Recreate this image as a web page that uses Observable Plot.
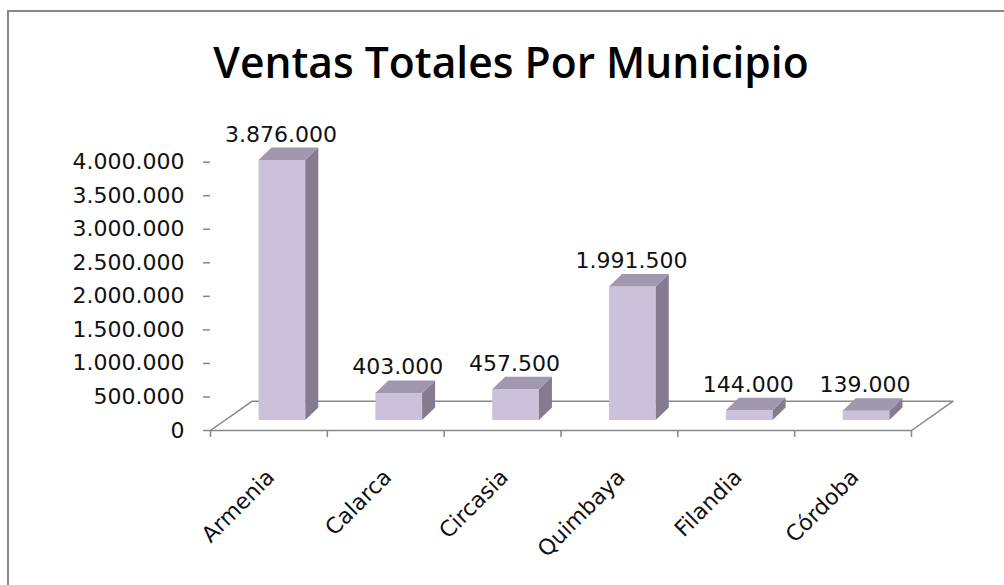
<!DOCTYPE html>
<html>
<head>
<meta charset="utf-8">
<script src="https://cdn.jsdelivr.net/npm/d3@7"></script>
<script src="https://cdn.jsdelivr.net/npm/@observablehq/plot@0.6"></script>
<style>
  html, body { margin: 0; padding: 0; background: #fff; }
  #wrap { position: relative; width: 1004px; height: 585px; overflow: hidden; background: #fff; }
  #frame { position: absolute; left: 7px; top: 10px; width: 1020px; height: 620px; border: 2px solid #878787; box-sizing: border-box; z-index: 5; pointer-events: none; }
  #title { position: relative; height: 110px; }
  #title span { position: absolute; left: 510.5px; top: 40px; font-family: "Open Sans", Lato, sans-serif; font-weight: 600; font-size: 43.5px; line-height: 1; white-space: nowrap; color: #000; transform-origin: center; }
  #chart svg { display: block; }
</style>
</head>
<body>
<div id="wrap">
  <div id="title"><span id="titleText">Ventas Totales Por Municipio</span></div>
  <div id="chart"></div>
  <div id="frame"></div>
</div>
<script>
// ---- data ----
const categories = ["Armenia", "Calarca", "Circasia", "Quimbaya", "Filandia", "Córdoba"];
const ventas = [3876000, 403000, 457500, 1991500, 144000, 139000];
const yTicks = [0, 500000, 1000000, 1500000, 2000000, 2500000, 3000000, 3500000, 4000000];
const yMax = 4000000;

// ---- layout ----
const W = 1004, H = 475;
const mL = 210, mR = 93, mT = 51.7, mB = 155;
const nCat = categories.length;
const pxPerBand = (W - mL - mR) / nCat;
const pxPerUnit = (H - mT - mB) / yMax;
const barDX = 13.5, barDY = -10;          // front face offset into the depth
const depthX = 13 / pxPerBand, depthY = 12.5 / pxPerUnit;    // bar depth
const floorX = 41.7 / pxPerBand, floorY = 29.3 / pxPerUnit;  // floor depth

const fmt = d3.formatLocale({decimal: ",", thousands: ".", grouping: [3], currency: ["$", ""]}).format(",");

const bars = categories.map((name, i) => ({name, i, v: ventas[i]}));
const sidePts = bars.flatMap(b => [
  {name: b.name, x: b.i + 0.7, y1: 0, y2: b.v},
  {name: b.name, x: b.i + 0.7 + depthX, y1: depthY, y2: b.v + depthY}
]);
const topPts = bars.flatMap(b => [
  {name: b.name, y: b.v, x1: b.i + 0.3, x2: b.i + 0.7},
  {name: b.name, y: b.v + depthY, x1: b.i + 0.3 + depthX, x2: b.i + 0.7 + depthX}
]);
const floorPts = [
  {x: 0, y: 0}, {x: floorX, y: floorY}, {x: nCat + floorX, y: floorY}, {x: nCat, y: 0}
];

const axisGray = "#878787";
const frontFill = "#CBC1DB", sideFill = "#847B91", topFill = "#A197AF";

const plot = Plot.plot({
  width: W, height: H,
  marginLeft: mL, marginRight: mR, marginTop: mT, marginBottom: mB,
  style: {fontFamily: "'DejaVu Sans', Verdana, sans-serif", fontSize: "22px", background: "transparent", color: "#000", overflow: "visible"},
  x: {domain: [0, nCat], axis: null},
  y: {domain: [0, yMax], axis: null},
  marks: [
    Plot.line(floorPts, {x: "x", y: "y", stroke: axisGray, strokeWidth: 1.5}),
    Plot.ruleY([0], {stroke: axisGray, strokeWidth: 1.5}),
    Plot.axisX({ticks: d3.range(nCat + 1), tickSize: 7, tickFormat: () => "", stroke: axisGray, strokeWidth: 1.5, label: null}),
    Plot.axisY({ticks: yTicks, tickSize: 7, tickPadding: 19, tickFormat: fmt, stroke: axisGray, strokeWidth: 1.5, fill: "#111", line: true, label: null, fontSize: 22}),
    Plot.rect(bars, {x1: d => d.i + 0.3, x2: d => d.i + 0.7, y1: 0, y2: "v", fill: frontFill, dx: barDX, dy: barDY}),
    Plot.areaY(sidePts, {x: "x", y1: "y1", y2: "y2", z: "name", fill: sideFill, dx: barDX, dy: barDY}),
    Plot.areaX(topPts, {y: "y", x1: "x1", x2: "x2", z: "name", fill: topFill, dx: barDX, dy: barDY}),
    Plot.text(bars, {x: d => d.i + 0.5, y: "v", text: d => fmt(d.v), dx: 12, dy: -29, lineAnchor: "bottom", fill: "#111", fontSize: 22}),
    Plot.text(categories, {x: (d, i) => i + 0.5, y: () => 0, text: d => d, rotate: -45, textAnchor: "end", dx: 2, dy: 43, fill: "#111", fontSize: 22})
  ]
});
document.getElementById("chart").appendChild(plot);

// fit title width to the reference's condensed bold face
const titleEl = document.getElementById("titleText");
const sx = 595 / titleEl.offsetWidth;
titleEl.style.transform = `translateX(-50%) scaleX(${sx})`;
</script>
</body>
</html>
